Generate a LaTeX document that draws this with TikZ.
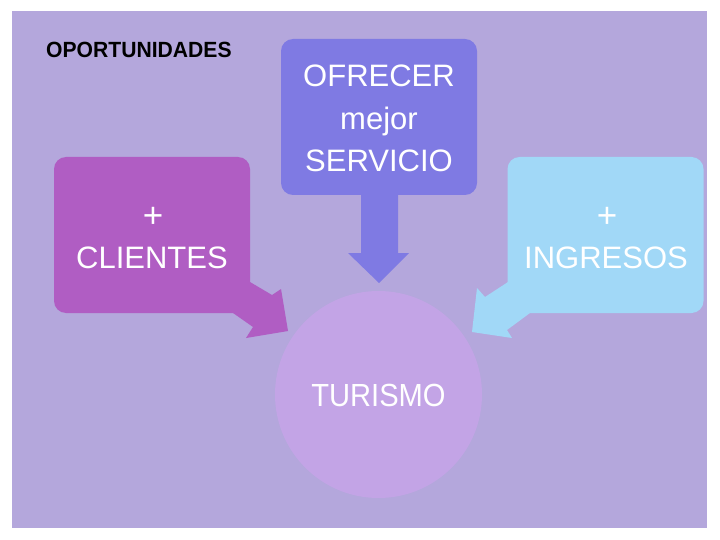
\documentclass[tikz,border=0pt]{standalone}
\usepackage{fontspec}
\setmainfont{Liberation Sans}
\definecolor{bgc}{HTML}{B4A7DC}
\definecolor{clic}{HTML}{B05DC3}
\definecolor{ofc}{HTML}{7F7AE3}
\definecolor{ingc}{HTML}{A1D8F7}
\definecolor{turc}{HTML}{C3A4E6}
\tikzset{
  boxshape/.style={rectangle, rounded corners=12pt, inner sep=0pt, minimum width=196pt, minimum height=156pt},
  boxtext/.style={inner sep=0pt, anchor=base, text=white, font=\fontsize{31}{37}\selectfont},
  plustext/.style={boxtext, font=\fontsize{35}{40}\selectfont},
}
\begin{document}
\begin{tikzpicture}[x=1pt,y=-1pt]
\useasboundingbox (0,0) rectangle (720,540);
\fill[white] (0,0) rectangle (720,540);
\fill[bgc] (12,11) rectangle (707,528);

% title
\node[inner sep=0pt, anchor=base west, text=black, font=\bfseries\fontsize{22}{26}\selectfont] (title) at (46,58) {\scalebox{0.96}[1]{OPORTUNIDADES}};

% circle
\node[circle, fill=turc, minimum size=207pt, inner sep=0pt] (tur) at (378.5,394.5) {};
\node[boxtext, font=\fontsize{32}{38}\selectfont] (turt) at (378.5,406) {\scalebox{0.91}[1]{TURISMO}};

% left callout
\node[boxshape, fill=clic] (cli) at (152,235) {};
\fill[clic] (250,282) -- (272,295) -- (281,289) -- (288,331) -- (246,338) -- (253,327) -- (233,313) -- cycle;
\node[plustext] (clip) at (153,228) {+};
\node[boxtext] (clit) at (152,268) {CLIENTES};

% right callout
\node[boxshape, fill=ingc] (ing) at (605.5,235) {};
\fill[ingc] (508,282) -- (485,297) -- (477,288) -- (472,332) -- (512,338) -- (507,330) -- (530,313) -- cycle;
\node[plustext] (ingp) at (607,228) {+};
\node[boxtext] (ingt) at (606,268) {INGRESOS};

% middle callout
\node[boxshape, fill=ofc] (ofr) at (379,117) {};
\fill[ofc] (361,190) -- (361,253) -- (348,253) -- (379,283) -- (409,253) -- (398,253) -- (398,190) -- cycle;
\node[boxtext] (ofr1) at (379,87) {OFRECER};
\node[boxtext] (ofr2) at (379,130) {mejor};
\node[boxtext] (ofr3) at (379,172) {SERVICIO};
\end{tikzpicture}
\end{document}
